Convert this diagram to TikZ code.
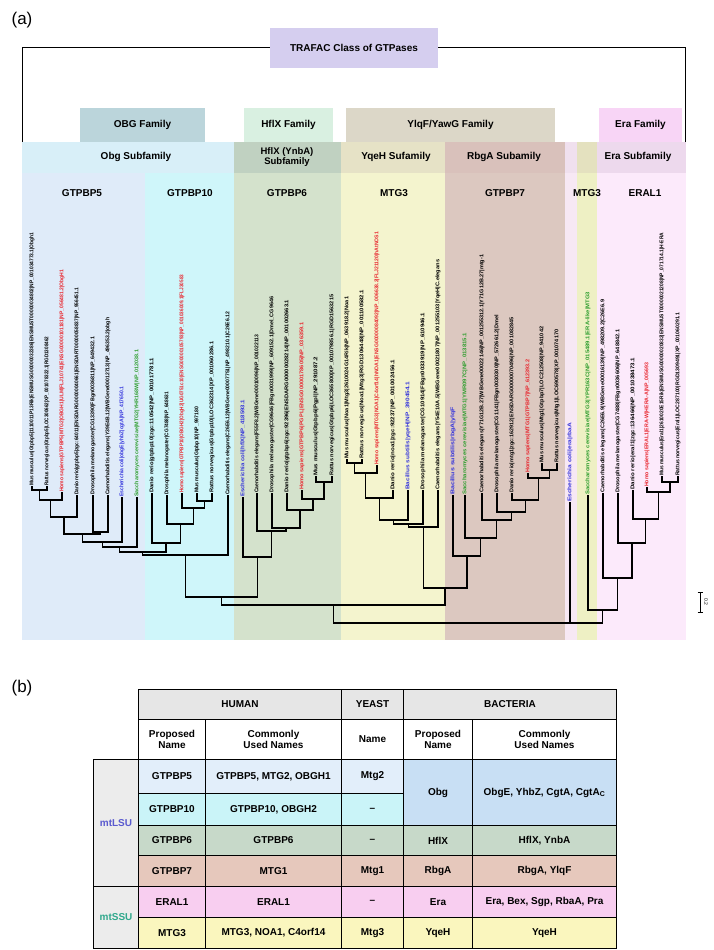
\documentclass[tikz,border=0pt]{standalone}
\usepackage{fontspec}
\setmainfont{Liberation Sans}
\usepackage{graphicx}
\usepackage{tikz}

% family / subfamily colours
\definecolor{trafacLav}{HTML}{D5CEEF}
\definecolor{obgFam}{HTML}{BBD5DB}
\definecolor{hflxFam}{HTML}{D9F0E1}
\definecolor{ylqfFam}{HTML}{DCD7C8}
\definecolor{eraFam}{HTML}{F8D5F6}
\definecolor{obgSub}{HTML}{D8EFF8}
\definecolor{hflxSub}{HTML}{C0D1C1}
\definecolor{yqehSub}{HTML}{E6E2C6}
\definecolor{rbgaSub}{HTML}{D9C1BB}
\definecolor{gapSub}{HTML}{F0E0EE}
\definecolor{mtgSub}{HTML}{E4E1BF}
\definecolor{eraSub}{HTML}{EDD9ED}
\definecolor{colGfive}{HTML}{DFEBF9}
\definecolor{colGten}{HTML}{CFF6FA}
\definecolor{colGsix}{HTML}{D4E2CC}
\definecolor{colMtg}{HTML}{F4F4CE}
\definecolor{colGseven}{HTML}{DCC8C0}
\definecolor{colGap}{HTML}{F7E8F4}
\definecolor{colMtgb}{HTML}{EEF0C4}
\definecolor{colEra}{HTML}{FCEAFB}
% table colours
\definecolor{tabHead}{HTML}{E6E6E6}
\definecolor{tabSide}{HTML}{ECECEC}
\definecolor{rowGfive}{HTML}{E2EEFA}
\definecolor{rowGten}{HTML}{CAF4F8}
\definecolor{rowObg}{HTML}{C8DFF4}
\definecolor{rowGsix}{HTML}{C7D9C9}
\definecolor{rowGseven}{HTML}{E6C8BC}
\definecolor{rowEra}{HTML}{F8CEF0}
\definecolor{rowMtg}{HTML}{FAF6BE}
\definecolor{lsuBlue}{HTML}{5A5ACF}
\definecolor{ssuGreen}{HTML}{2FA88C}
\definecolor{hsaRed}{HTML}{E8262E}
\definecolor{bacBlue}{HTML}{3232DC}
\definecolor{ystGreen}{HTML}{2E9E2E}

\newcommand{\taxon}[2]{\resizebox{#1pt}{3.9pt}{#2}}

\begin{document}
\begin{tikzpicture}[
  x=1pt, y=-1pt,
  font=\bfseries\fontsize{10}{11}\selectfont,
  leaf/.style={rotate=90, anchor=west, inner sep=0pt, font=\bfseries\fontsize{5}{5}\selectfont},
  hsa/.style={leaf, text=hsaRed},
  bac/.style={leaf, text=bacBlue},
  yst/.style={leaf, text=ystGreen},
  branch/.style={line width=1.2pt},
  grouplabel/.style={align=center, inner sep=1pt},
  fambox/.style={inner sep=0pt, align=center},
  cell/.style 2 args={draw, line width=1pt, anchor=north west,
    minimum width=#1pt, minimum height=#2pt, inner sep=1pt, align=center,
    font=\bfseries\fontsize{10}{11}\selectfont}
]
\useasboundingbox (0,0) rectangle (714,950);

\node[font=\fontsize{17}{17}\selectfont] (pa) at (22,20) {(a)};

% gene columns
\fill[colGfive] (22,173) rectangle (145,640);
\fill[colGten] (145,173) rectangle (234,640);
\fill[colGsix] (234,173) rectangle (341,640);
\fill[colMtg] (341,173) rectangle (445,640);
\fill[colGseven] (445,173) rectangle (565,640);
\fill[colGap] (565,173) rectangle (577,640);
\fill[colMtgb] (577,173) rectangle (597,640);
\fill[colEra] (597,173) rectangle (686,640);

% subfamily bands
\fill[obgSub] (22,142) rectangle (234,173);
\fill[hflxSub] (234,142) rectangle (341,173);
\fill[yqehSub] (341,142) rectangle (445,173);
\fill[rbgaSub] (445,142) rectangle (565,173);
\fill[gapSub] (565,142) rectangle (577,173);
\fill[mtgSub] (577,142) rectangle (597,173);
\fill[eraSub] (597,142) rectangle (686,173);

% families
\node[fambox, fill=obgFam, minimum width=125pt, minimum height=34pt] (obgfam) at (142.5,125) {OBG Family};
\node[fambox, fill=hflxFam, minimum width=89pt, minimum height=34pt] (hflxfam) at (288.5,125) {HflX Family};
\node[fambox, fill=ylqfFam, minimum width=209pt, minimum height=34pt] (ylqffam) at (450.5,125) {YlqF/YawG Family};
\node[fambox, fill=eraFam, minimum width=83pt, minimum height=34pt] (erafam) at (640.5,125) {Era Family};

% class
\node[fambox, fill=trafacLav, minimum width=168pt, minimum height=40pt] (trafac) at (354,48) {TRAFAC Class of GTPases};
\coordinate (brL) at (22,142);
\coordinate (brR) at (685,142);
\draw[line width=1pt] (brL) |- (trafac);
\draw[line width=1pt] (brR) |- (trafac);

% subfamily labels
\node[grouplabel] (obgsub) at (136,157) {Obg Subfamily};
\node[grouplabel, font=\bfseries\fontsize{9.5}{10}\selectfont] (hflxsub) at (287,157) {HflX (YnbA)\\Subfamily};
\node[grouplabel] (yqehsub) at (396,157) {YqeH Sufamily};
\node[grouplabel] (rbgasub) at (504,157) {RbgA Subamily};
\node[grouplabel] (erasub) at (638,157) {Era Subfamily};

% gene labels
\node (gfive) at (82,193) {GTPBP5};
\node (gten) at (190,193) {GTPBP10};
\node (gsix) at (287,193) {GTPBP6};
\node (mtgthree) at (394,193) {MTG3};
\node (gseven) at (505,193) {GTPBP7};
\node (mtgthreeb) at (587,193) {MTG3};
\node (eral) at (645,193) {ERAL1};

% GTPBP5 leaves
\node[leaf] (l1) at (32,486) {\taxon{253}{Mus musculus|Gtpbp5|1110011P13Rik|ENSMUSG00000032386|ENSMUST00000034802|NP\_001034773.1|Obgh1}};
\node[leaf] (l2) at (47,486) {\taxon{149}{Rattus norvegicus|Gtpbp5|LOC300662|XP\_001078322.1|RGD1308462}};
\node[hsa] (l3) at (62,492) {\taxon{222}{Homo sapiens|GTPBP5|MTG2|OBGH1|ULM|FLJ10741|ENSG00000101181|NP\_056481.2|ObgH1}};
\node[leaf] (l4) at (77,495) {\taxon{207}{Danio rerio|gtpbp5|zgc:64011|ENSDARG00000040661|ENSDART00000058837|NP\_956451.1}};
\node[leaf] (l5) at (93,495) {\taxon{158}{Drosophila melanogaster|CG13390|FBgn0036811|NP\_649432.1}};
\node[leaf] (l6) at (108,495) {\taxon{177}{Caenorhabditis elegans|Y39E4B.12|WBGene00012713|NP\_496353.2|obgh}};
\node[bac] (l7) at (122,497) {\taxon{110}{Escherichia coli|obgE|yhbZ|cgtA|NP\_417650.1}};
\node[yst] (l8) at (137,497) {\taxon{147}{Saccharomyces cerevisiae|MTG2|YHR168W|NP\_012038.1}};

% GTPBP10 leaves
\node[leaf] (l9) at (152,493) {\taxon{135}{Danio rerio|gtpbp10|zgc:110542|NP\_001017781.1}};
\node[leaf] (l10) at (167,495) {\taxon{103}{Drosophila melanogaster|CG7488|NP\_648631}};
\node[hsa] (l11) at (182,493) {\taxon{218}{Homo sapiens|GTPBP10|OBGH2|ObgH2|UG0751c10|ENSG00000105793|NP\_001036009.1|FLJ30583}};
\node[leaf] (l12) at (197,493) {\taxon{86}{Mus musculus|Gtpbp10|NP\_997180}};
\node[leaf] (l13) at (212,493) {\taxon{151}{Rattus norvegicus|Gtpbp10|LOC362314|XP\_001060286.1}};
\node[leaf] (l14) at (228,495) {\taxon{183}{Caenorhabditis elegans|C26E6.12|WBGene00007751|NP\_498210.1|C26E6.12}};

% GTPBP6 leaves
\node[bac] (l15) at (243,497) {\taxon{97}{Escherichia coli|hflX|NP\_418593.1}};
\node[leaf] (l16) at (257,493) {\taxon{158}{Caenorhabditis elegans|F55F8.2|WBGene00010096|NP\_001022113}};
\node[leaf] (l17) at (272,493) {\taxon{196}{Drosophila melanogaster|CG9646|FBgn0031999|NP\_609152.1|Dmel\_CG9646}};
\node[leaf] (l18) at (287,493) {\taxon{193}{Danio rerio|gtpbp6|zgc:92396|ENSDARG00000028214|NP\_001002663.1}};
\node[hsa] (l19) at (302,490) {\taxon{167}{Homo sapiens|GTPBP6|PGPL|ENSG00000178605|NP\_036359.1}};
\node[leaf] (l20) at (316,476) {\taxon{119}{Mus musculus|Gtpbp6|Pgpl|NP\_291087.2}};
\node[leaf] (l21) at (332,476) {\taxon{181}{Rattus norvegicus|Gtpbp6|LOC365800|XP\_001079856.1|RGD1563215}};

% MTG3 leaves
\node[leaf] (l22) at (347,459) {\taxon{162}{Mus musculus|Noa1|Mtg3|2610024G14Rik|NP\_063918.2|Noa1}};
\node[leaf] (l23) at (362,459) {\taxon{169}{Rattus norvegicus|Noa1|Mtg3|RGD1306448|NP\_001100582.1}};
\node[hsa] (l24) at (377,465) {\taxon{233}{Homo sapiens|MTG3|NOA1|C4orf14|hNOA1|ENSG00000084092|NP\_006638.2|FLJ21120|hAtNOS1}};
\node[leaf] (l25) at (393,490) {\taxon{130}{Danio rerio|noa1|zgc:92237|NP\_001002456.1}};
\node[bac] (l26) at (408,490) {\taxon{108}{Bacillus subtilis|yqeH|NP\_390454.1}};
\node[leaf] (l27) at (423,490) {\taxon{177}{Drosophila melanogaster|CG10914|FBgn0033919|NP\_610946.1}};
\node[leaf] (l28) at (438,490) {\taxon{230}{Caenorhabditis elegans|Y54E10A.5|WBGene00021807|NP\_001255103|YqeH|C.elegans}};

% GTPBP7 leaves
\node[bac] (l29) at (453,495) {\taxon{88}{Bacillus subtilis|rbgA|ylqF}};
\node[yst] (l30) at (465,495) {\taxon{162}{Saccharomyces cerevisiae|MTG1|YMR097C|NP\_013815.1}};
\node[leaf] (l31) at (482,493) {\taxon{238}{Caenorhabditis elegans|Y71G12B.27|WBGene00022146|NP\_001255312.1|Y71G12B.27|mtg-1}};
\node[leaf] (l32) at (497,493) {\taxon{178}{Drosophila melanogaster|CG1141|FBgn0030300|NP\_572661.2|Dmel}};
\node[leaf] (l33) at (512,493) {\taxon{175}{Danio rerio|mtg1|zgc:162912|ENSDARG00000070496|NP\_001082845}};
\node[hsa] (l34) at (528,473) {\taxon{113}{Homo sapiens|MTG1|GTPBP7|NP\_612393.2}};
\node[leaf] (l35) at (542,463) {\taxon{136}{Mus musculus|Mtg1|Gtpbp7|LOC212508|NP\_941042}};
\node[leaf] (l36) at (557,463) {\taxon{133}{Rattus norvegicus|Mtg1|LOC690578|XP\_001074170}};

% Era leaves
\node[bac] (l37) at (570,502) {\taxon{79}{Escherichia coli|era|rbaA}};
\node[yst] (l38) at (588,495) {\taxon{203}{Saccharomyces cerevisiae|MTG3|YPR163C|NP\_015489.1|ERA-like|MTG3}};
\node[leaf] (l39) at (603,493) {\taxon{193}{Caenorhabditis elegans|C26E6.9|WBGene00016139|NP\_498209.2|C26E6.9}};
\node[leaf] (l40) at (618,493) {\taxon{163}{Drosophila melanogaster|CG7488|FBgn0036606|NP\_648842.1}};
\node[leaf] (l41) at (633,490) {\taxon{132}{Danio rerio|eral1|zgc:136466|NP\_001038473.1}};
\node[hsa] (l42) at (647,487) {\taxon{124}{Homo sapiens|ERAL1|ERA-W|HERA-A|NP\_005693}};
\node[leaf] (l43) at (662,476) {\taxon{243}{Mus musculus|Eral1|2610020E15Rik|ENSMUSG00000020832|ENSMUST00000021208|NP\_071714.1|H-ERA}};
\node[leaf] (l44) at (678,476) {\taxon{163}{Rattus norvegicus|Eral1|LOC287100|RGD1309491|XP\_001060291.1}};

% inner nodes
\coordinate (n5a) at (39.5,490);  \coordinate (n5b) at (50.8,500);
\coordinate (n5c) at (63.9,517);  \coordinate (n5d) at (100.5,532);
\coordinate (n5e) at (82.2,534);  \coordinate (n5f) at (102.1,542);
\coordinate (n5g) at (119.5,547);
\coordinate (n10a) at (204.5,501); \coordinate (n10b) at (193.3,508);
\coordinate (n10c) at (180.1,524); \coordinate (n10d) at (166,543);
\coordinate (n510) at (142.8,552); \coordinate (nOG) at (185.4,555);
\coordinate (n6a) at (324,482);   \coordinate (n6b) at (313,499);
\coordinate (n6c) at (300,510);   \coordinate (n6d) at (286,528);
\coordinate (n6e) at (271.5,531); \coordinate (n6f) at (257.2,557);
\coordinate (nOH) at (221.3,597);
\coordinate (m3a) at (354.5,463); \coordinate (m3b) at (365.8,473);
\coordinate (m3c) at (379.4,498); \coordinate (m3d) at (393.7,520);
\coordinate (m3e) at (408.3,524); \coordinate (m3f) at (423.2,527);
\coordinate (r7a) at (549.5,470); \coordinate (r7b) at (538.8,478);
\coordinate (r7c) at (525.4,500); \coordinate (r7d) at (511.2,512);
\coordinate (r7e) at (496.6,520); \coordinate (r7f) at (480.8,538);
\coordinate (r7g) at (466.9,556);
\coordinate (ny) at (445,588);    \coordinate (nobgy) at (333.2,605);
\coordinate (e1) at (670,482);    \coordinate (e2) at (658.5,492);
\coordinate (e3) at (645.8,519);  \coordinate (e4) at (631.9,543);
\coordinate (e5) at (617.4,578);  \coordinate (e6) at (602.7,610);
\coordinate (root) at (468,623);

% branches
\foreach \c/\p in {l1/n5a, l2/n5a, n5a/n5b, l3/n5b, n5b/n5c, l4/n5c, l5/n5d, l6/n5d,
    n5c/n5e, n5d/n5e, n5e/n5f, l7/n5f, n5f/n5g, l8/n5g,
    l12/n10a, l13/n10a, l11/n10b, n10a/n10b, l10/n10c, n10b/n10c, l9/n10d, n10c/n10d,
    n5g/n510, n10d/n510, n510/nOG, l14/nOG,
    l20/n6a, l21/n6a, l19/n6b, n6a/n6b, l18/n6c, n6b/n6c, l17/n6d, n6c/n6d,
    l16/n6e, n6d/n6e, l15/n6f, n6e/n6f, nOG/nOH, n6f/nOH,
    l22/m3a, l23/m3a, m3a/m3b, l24/m3b, m3b/m3c, l25/m3c, m3c/m3d, l26/m3d,
    m3d/m3e, l27/m3e, m3e/m3f, l28/m3f,
    l35/r7a, l36/r7a, l34/r7b, r7a/r7b, l33/r7c, r7b/r7c, l32/r7d, r7c/r7d,
    l31/r7e, r7d/r7e, l30/r7f, r7e/r7f, l29/r7g, r7f/r7g,
    m3f/ny, r7g/ny, nOH/nobgy, ny/nobgy,
    l43/e1, l44/e1, l42/e2, e1/e2, l41/e3, e2/e3, l40/e4, e3/e4,
    l39/e5, e4/e5, l38/e6, e5/e6, nobgy/root, l37/root, e6/root}
  \draw[branch] (\c) |- (\p);

% scale bar
\draw[line width=0.9pt] (700,592) -- (700,612);
\draw[line width=0.9pt] (697.5,592) -- (702.5,592);
\draw[line width=0.9pt] (697.5,612) -- (702.5,612);
\node[rotate=-90, font=\fontsize{5}{5}\selectfont, inner sep=0pt] (scalelbl) at (706,602) {0.2};

% (b) table
\node[font=\fontsize{17}{17}\selectfont] (pb) at (22,688) {(b)};

\node[cell={203}{30}, fill=tabHead] (human) at (138,689) {HUMAN};
\node[cell={62}{30}, fill=tabHead] (yeast) at (341,689) {YEAST};
\node[cell={213}{30}, fill=tabHead] (bact) at (403,689) {BACTERIA};
\node[cell={67}{40}, fill=white] (hprop) at (138,719) {Proposed\\Name};
\node[cell={136}{40}, fill=white] (hcomm) at (205,719) {Commonly\\Used Names};
\node[cell={62}{40}, fill=white] (yname) at (341,719) {Name};
\node[cell={69}{40}, fill=white] (bprop) at (403,719) {Proposed\\Name};
\node[cell={144}{40}, fill=white] (bcomm) at (472,719) {Commonly\\Used Names};

\node[cell={45}{127}, fill=tabSide, text=lsuBlue] (mtlsu) at (93,759) {mtLSU};
\node[cell={45}{62}, fill=tabSide, text=ssuGreen] (mtssu) at (93,886) {mtSSU};

% GTPBP5 / GTPBP10 rows
\node[cell={67}{34}, fill=rowGfive] (rfive) at (138,759) {GTPBP5};
\node[cell={136}{34}, fill=rowGfive] (rfivec) at (205,759) {GTPBP5, MTG2, OBGH1};
\node[cell={62}{34}, fill=rowGfive] (rfivey) at (341,759) {Mtg2};
\node[cell={67}{32}, fill=rowGten] (rten) at (138,793) {GTPBP10};
\node[cell={136}{32}, fill=rowGten] (rtenc) at (205,793) {GTPBP10, OBGH2};
\node[cell={62}{32}, fill=rowGten] (rteny) at (341,793) {--};
\node[cell={69}{66}, fill=rowObg] (robg) at (403,759) {Obg};
\node[cell={144}{66}, fill=rowObg] (robgc) at (472,759) {ObgE, YhbZ, CgtA, CgtA\textsubscript{C}};

% GTPBP6 row
\node[cell={67}{30}, fill=rowGsix] (rsix) at (138,825) {GTPBP6};
\node[cell={136}{30}, fill=rowGsix] (rsixc) at (205,825) {GTPBP6};
\node[cell={62}{30}, fill=rowGsix] (rsixy) at (341,825) {--};
\node[cell={69}{30}, fill=rowGsix] (rsixb) at (403,825) {HflX};
\node[cell={144}{30}, fill=rowGsix] (rsixbc) at (472,825) {HflX, YnbA};

% GTPBP7 row
\node[cell={67}{31}, fill=rowGseven] (rseven) at (138,855) {GTPBP7};
\node[cell={136}{31}, fill=rowGseven] (rsevenc) at (205,855) {MTG1};
\node[cell={62}{31}, fill=rowGseven] (rseveny) at (341,855) {Mtg1};
\node[cell={69}{31}, fill=rowGseven] (rsevenb) at (403,855) {RbgA};
\node[cell={144}{31}, fill=rowGseven] (rsevenbc) at (472,855) {RbgA, YlqF};

% ERAL1 row
\node[cell={67}{31}, fill=rowEra] (rera) at (138,886) {ERAL1};
\node[cell={136}{31}, fill=rowEra] (rerac) at (205,886) {ERAL1};
\node[cell={62}{31}, fill=rowEra] (reray) at (341,886) {--};
\node[cell={69}{31}, fill=rowEra] (rerab) at (403,886) {Era};
\node[cell={144}{31}, fill=rowEra] (rerabc) at (472,886) {Era, Bex, Sgp, RbaA, Pra};

% MTG3 row
\node[cell={67}{31}, fill=rowMtg] (rmtg) at (138,917) {MTG3};
\node[cell={136}{31}, fill=rowMtg] (rmtgc) at (205,917) {MTG3, NOA1, C4orf14};
\node[cell={62}{31}, fill=rowMtg] (rmtgy) at (341,917) {Mtg3};
\node[cell={69}{31}, fill=rowMtg] (rmtgb) at (403,917) {YqeH};
\node[cell={144}{31}, fill=rowMtg] (rmtgbc) at (472,917) {YqeH};

\end{tikzpicture}
\end{document}
